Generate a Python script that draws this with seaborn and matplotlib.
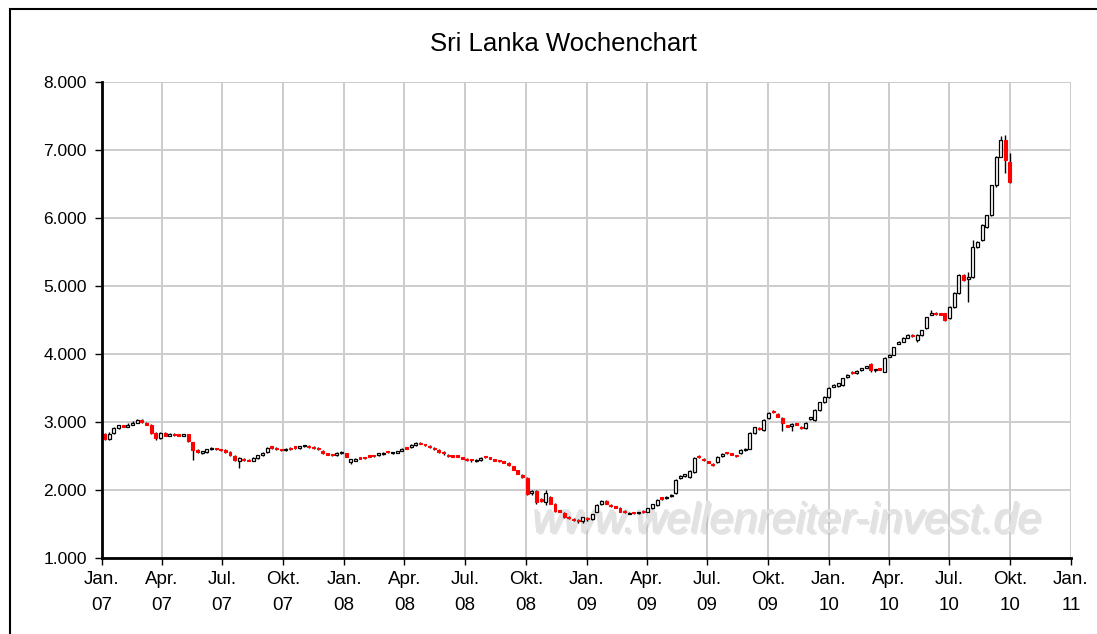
import matplotlib
matplotlib.use("Agg")
import numpy as np
import pandas as pd
import seaborn as sns
import matplotlib.pyplot as plt
from matplotlib.patches import Rectangle
from matplotlib.ticker import FuncFormatter
import matplotlib.patheffects as pe

# ---------------- data (weekly OHLC) ----------------
title = "Sri Lanka Wochenchart"
watermark = "www.wellenreiter-invest.de"
first_week = "2007-01-05"

opens = [
    2820, 2750, 2840, 2910, 2950, 2930, 2960, 2990, 3030, 2990, 2960, 2840, 2760,
    2840, 2800, 2830, 2810, 2800, 2820, 2700, 2590, 2550, 2560, 2600, 2610, 2600,
    2590, 2560, 2500, 2420, 2460, 2440, 2430, 2470, 2510, 2560, 2640, 2620, 2600,
    2590, 2620, 2640, 2620, 2640, 2650, 2630, 2620, 2580, 2540, 2520, 2510, 2540,
    2540, 2410, 2430, 2480, 2480, 2500, 2510, 2510, 2530, 2570, 2540, 2550, 2580,
    2620, 2630, 2660, 2690, 2670, 2650, 2620, 2590, 2560, 2520, 2500, 2500, 2470,
    2460, 2450, 2420, 2440, 2490, 2470, 2450, 2430, 2420, 2400, 2350, 2290, 2220,
    2180, 1950, 1990, 1870, 1830, 1900, 1800, 1700, 1660, 1610, 1580, 1560, 1540,
    1590, 1570, 1680, 1790, 1840, 1780, 1760, 1740, 1690, 1650, 1670, 1660, 1690,
    1680, 1730, 1780, 1890, 1880, 1910, 1950, 2170, 2200, 2190, 2260, 2500, 2460,
    2420, 2380, 2410, 2500, 2550, 2540, 2510, 2540, 2590, 2610, 2840, 2910, 2880,
    3060, 3160, 3120, 3060, 2950, 2940, 2980, 2930, 2910, 3040, 3030, 3170, 3290,
    3370, 3520, 3530, 3540, 3660, 3740, 3720, 3760, 3800, 3860, 3760, 3790, 3740,
    3960, 3990, 4150, 4180, 4240, 4280, 4210, 4280, 4380, 4580, 4610, 4600, 4600,
    4530, 4690, 4900, 5160, 5100, 5130, 5570, 5670, 5870, 6040, 6480, 6900, 7150,
    6820,
]
highs = [
    2840, 2850, 2930, 2960, 2960, 2980, 3010, 3040, 3040, 3000, 2970, 2850, 2850,
    2850, 2840, 2840, 2820, 2830, 2830, 2710, 2600, 2580, 2610, 2630, 2620, 2610,
    2600, 2570, 2510, 2480, 2470, 2450, 2480, 2520, 2560, 2630, 2650, 2630, 2610,
    2620, 2630, 2650, 2650, 2660, 2660, 2640, 2630, 2590, 2550, 2530, 2560, 2570,
    2550, 2460, 2470, 2490, 2490, 2510, 2520, 2550, 2560, 2580, 2560, 2580, 2620,
    2630, 2670, 2700, 2700, 2680, 2660, 2630, 2600, 2570, 2530, 2510, 2510, 2480,
    2470, 2460, 2450, 2480, 2500, 2480, 2460, 2440, 2430, 2410, 2360, 2300, 2230,
    2190, 2000, 2000, 1880, 2000, 1910, 1810, 1710, 1670, 1620, 1590, 1570, 1610,
    1600, 1650, 1790, 1850, 1850, 1790, 1770, 1750, 1700, 1670, 1680, 1680, 1700,
    1740, 1800, 1870, 1900, 1910, 1940, 2160, 2220, 2240, 2290, 2480, 2510, 2470,
    2430, 2390, 2500, 2540, 2560, 2550, 2520, 2600, 2620, 2850, 2930, 2920, 3040,
    3140, 3170, 3130, 3070, 2960, 2990, 2990, 2940, 3000, 3080, 3190, 3300, 3380,
    3510, 3560, 3580, 3650, 3700, 3750, 3760, 3800, 3830, 3870, 3780, 3800, 3950,
    4000, 4110, 4190, 4250, 4290, 4290, 4290, 4360, 4550, 4640, 4620, 4610, 4610,
    4700, 4910, 5170, 5170, 5200, 5680, 5660, 5910, 6050, 6490, 6910, 7200, 7220,
    6950,
]
lows = [
    2730, 2740, 2830, 2900, 2920, 2920, 2950, 2980, 2990, 2950, 2830, 2740, 2750,
    2790, 2790, 2800, 2790, 2790, 2700, 2440, 2540, 2530, 2550, 2590, 2590, 2580,
    2550, 2500, 2420, 2320, 2430, 2420, 2420, 2460, 2500, 2550, 2610, 2590, 2580,
    2580, 2590, 2610, 2610, 2630, 2620, 2610, 2590, 2530, 2510, 2500, 2500, 2530,
    2480, 2380, 2420, 2450, 2460, 2480, 2490, 2500, 2520, 2550, 2530, 2540, 2570,
    2600, 2620, 2650, 2670, 2650, 2620, 2590, 2550, 2520, 2490, 2480, 2480, 2450,
    2430, 2410, 2410, 2430, 2470, 2450, 2420, 2410, 2390, 2360, 2290, 2230, 2180,
    1930, 1930, 1800, 1830, 1780, 1790, 1680, 1670, 1590, 1580, 1550, 1510, 1520,
    1550, 1560, 1670, 1780, 1790, 1750, 1730, 1670, 1660, 1640, 1650, 1650, 1660,
    1670, 1720, 1770, 1860, 1870, 1900, 1940, 2160, 2190, 2180, 2250, 2470, 2430,
    2390, 2360, 2400, 2490, 2530, 2510, 2490, 2530, 2580, 2600, 2830, 2880, 2870,
    3050, 3130, 3070, 2870, 2920, 2870, 2950, 2900, 2900, 3030, 3020, 3160, 3280,
    3360, 3510, 3520, 3530, 3650, 3710, 3710, 3750, 3790, 3740, 3740, 3760, 3730,
    3950, 3980, 4140, 4170, 4230, 4250, 4180, 4270, 4370, 4570, 4580, 4570, 4480,
    4510, 4680, 4880, 5080, 4760, 5120, 5560, 5660, 5860, 6030, 6460, 6890, 6660,
    6520,
]
closes = [
    2750, 2830, 2910, 2950, 2930, 2960, 2990, 3030, 3000, 2960, 2840, 2760, 2840,
    2800, 2830, 2810, 2800, 2820, 2720, 2590, 2560, 2570, 2600, 2610, 2600, 2590,
    2560, 2510, 2440, 2470, 2440, 2430, 2470, 2510, 2550, 2620, 2620, 2600, 2590,
    2610, 2600, 2620, 2640, 2650, 2630, 2620, 2600, 2540, 2520, 2510, 2550, 2560,
    2490, 2450, 2460, 2460, 2470, 2490, 2500, 2540, 2550, 2560, 2550, 2570, 2610,
    2610, 2660, 2690, 2680, 2660, 2630, 2600, 2560, 2540, 2500, 2490, 2490, 2460,
    2440, 2440, 2440, 2470, 2480, 2460, 2430, 2420, 2400, 2370, 2300, 2240, 2190,
    1940, 1990, 1820, 1840, 1950, 1800, 1690, 1680, 1600, 1590, 1560, 1540, 1600,
    1570, 1640, 1780, 1840, 1800, 1760, 1740, 1680, 1670, 1660, 1660, 1670, 1670,
    1730, 1790, 1860, 1870, 1900, 1930, 2150, 2210, 2230, 2280, 2470, 2480, 2440,
    2400, 2370, 2490, 2530, 2540, 2520, 2500, 2590, 2610, 2840, 2920, 2890, 3030,
    3130, 3140, 3080, 2980, 2930, 2970, 2960, 2910, 2990, 3070, 3180, 3290, 3370,
    3500, 3550, 3570, 3640, 3690, 3720, 3750, 3790, 3820, 3760, 3770, 3770, 3940,
    3990, 4100, 4180, 4240, 4280, 4260, 4280, 4350, 4540, 4610, 4590, 4580, 4500,
    4690, 4900, 5160, 5090, 5130, 5570, 5650, 5900, 6040, 6480, 6900, 7150, 6850,
    6530,
]

y_ticks = [1000, 2000, 3000, 4000, 5000, 6000, 7000, 8000]
x_tick_dates = ["2007-01-01", "2007-04-01", "2007-07-01", "2007-10-01",
                "2008-01-01", "2008-04-01", "2008-07-01", "2008-10-01",
                "2009-01-01", "2009-04-01", "2009-07-01", "2009-10-01",
                "2010-01-01", "2010-04-01", "2010-07-01", "2010-10-01",
                "2011-01-01"]
x_tick_labels = ["Jan.\n07", "Apr.\n07", "Jul.\n07", "Okt.\n07",
                 "Jan.\n08", "Apr.\n08", "Jul.\n08", "Okt.\n08",
                 "Jan.\n09", "Apr.\n09", "Jul.\n09", "Okt.\n09",
                 "Jan.\n10", "Apr.\n10", "Jul.\n10", "Okt.\n10",
                 "Jan.\n11"]

# ---------------- build ----------------
dates = pd.date_range(first_week, periods=len(closes), freq="7D")
df = pd.DataFrame({"date": dates, "open": opens, "high": highs,
                   "low": lows, "close": closes})
df["up"] = df["close"] >= df["open"]

sns.set_theme(style="white")
plt.rcParams["font.family"] = ["Liberation Sans", "DejaVu Sans"]

W, H = 1097, 634
fig = plt.figure(figsize=(W / 100, H / 100), dpi=100)
fig.patch.set_facecolor("white")

L, R, T, B = 102, 1071, 82, 558
ax = fig.add_axes([L / W, 1 - B / H, (R - L) / W, (B - T) / H])
ax.set_facecolor("white")

# wicks
ax.vlines(df["date"], df["low"], df["high"], color="black", lw=1.0, zorder=3)

# bodies
up = df[df["up"]]
dn = df[~df["up"]]
body_w = 4.5
ax.bar(up["date"], (up["close"] - up["open"]).clip(lower=18), bottom=up["open"],
       width=body_w, facecolor="white", edgecolor="black", linewidth=0.9, zorder=4)
ax.bar(dn["date"], (dn["open"] - dn["close"]).clip(lower=18), bottom=dn["close"],
       width=body_w, facecolor="#ff0000", edgecolor="#ff0000", linewidth=0.8, zorder=4)

# axes
xt = pd.to_datetime(x_tick_dates)
ax.set_xlim(xt[0], xt[-1])
ax.set_ylim(y_ticks[0], y_ticks[-1])
ax.set_xticks(xt)
ax.set_xticklabels(x_tick_labels, linespacing=1.75)
ax.set_yticks(y_ticks)
ax.yaxis.set_major_formatter(FuncFormatter(lambda v, p: f"{int(v):,}".replace(",", ".")))

ax.grid(True, color="#cccccc", lw=1.4, zorder=0)
ax.set_axisbelow(True)
for s in ["top", "right"]:
    ax.spines[s].set_visible(False)
for s in ["left", "bottom"]:
    ax.spines[s].set_color("black")
    ax.spines[s].set_linewidth(2.0)
    ax.spines[s].set_zorder(5)

ax.tick_params(axis="both", which="major", direction="out", length=5, width=1,
               color="black", labelcolor="black",
               bottom=True, left=True)
ax.tick_params(axis="x", pad=4, labelsize=13.5)
ax.tick_params(axis="y", pad=6, labelsize=12.5)

# title
fig.text(563 / W, 1 - 44 / H, title, ha="center", va="center",
         fontsize=18.5, color="black")

# watermark
ax.text(0.706, 0.077, watermark, transform=ax.transAxes, ha="center", va="center",
        fontsize=31, style="italic", color="#e2e2e2", zorder=2,
        path_effects=[pe.withSimplePatchShadow(offset=(1.5, -1.5), shadow_rgbFace="#b0b0b0",
                                               alpha=0.35), pe.Normal()])

# outer chart frame
fig.patches.append(Rectangle((10 / W, -0.05), 1.2, 1.05 - 9 / H,
                             transform=fig.transFigure, fill=False,
                             edgecolor="black", linewidth=1.5))

fig.savefig("out.png", dpi=100)
